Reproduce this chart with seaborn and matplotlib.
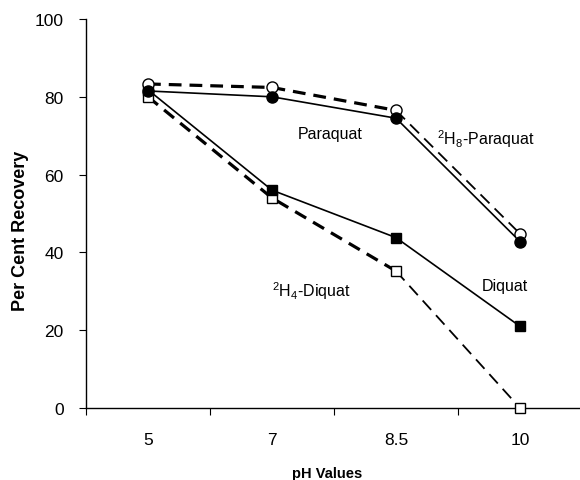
import numpy as np
import pandas as pd
import matplotlib
matplotlib.use("Agg")
import matplotlib.pyplot as plt
import seaborn as sns

ph_labels = ["5", "7", "8.5", "10"]
paraquat = [81.5, 80.0, 74.5, 42.8]
paraquat_d8 = [83.3, 82.4, 76.5, 44.8]
diquat = [81.8, 56.0, 43.8, 21.0]
diquat_d4 = [80.0, 54.0, 35.2, 0.0]

sns.set_theme(style="white")
plt.rcParams['font.family'] = ['Liberation Sans', 'DejaVu Sans']
plt.rcParams['mathtext.fontset'] = 'custom'
plt.rcParams['mathtext.rm'] = 'Liberation Sans'

fig = plt.figure(figsize=(5.8, 4.81), dpi=100)
ax = fig.add_axes([86/580, 1-409/481, 496/580, 389/481])

pos = np.arange(len(ph_labels))

def draw(vals, marker, filled, dashed):
    mfc = "black" if filled else "white"
    ms = 8 if marker == "o" else 7.5
    if dashed:
        sns.lineplot(x=pos[:3], y=vals[:3], ax=ax, color="black", lw=2.3,
                     linestyle=(0, (4, 2.5)), zorder=2)
        sns.lineplot(x=pos[2:], y=vals[2:], ax=ax, color="black", lw=1.3,
                     linestyle=(0, (7, 4)), zorder=2)
    else:
        sns.lineplot(x=pos, y=vals, ax=ax, color="black", lw=1.2, zorder=2)
    ax.plot(pos, vals, linestyle="none", marker=marker, ms=ms, mfc=mfc,
            mec="black", mew=1.0, zorder=3, clip_on=False)

draw(diquat_d4, "s", False, True)
draw(diquat, "s", True, False)
draw(paraquat_d8, "o", False, True)
draw(paraquat, "o", True, False)

ax.set_xlim(-0.5, 3.5)
ax.set_ylim(0, 100)
ax.set_yticks([0, 20, 40, 60, 80, 100])
ax.set_xticks(pos)
ax.set_xticklabels(ph_labels)
ax.set_xticks(np.arange(-0.5, 3.6, 1.0), minor=True)
ax.tick_params(axis="x", which="major", length=0, pad=17, labelsize=12.5, colors="black")
ax.tick_params(axis="x", which="minor", length=5, width=0.8, direction="out", color="black", bottom=True)
ax.tick_params(axis="y", which="major", length=5, width=0.8, direction="out", left=True,
               labelsize=12.5, colors="black", pad=11)

for s in ["top", "right"]:
    ax.spines[s].set_visible(False)
for s in ["left", "bottom"]:
    ax.spines[s].set_color("black")
    ax.spines[s].set_linewidth(1.0)
ax.spines["bottom"].set_clip_on(False)
ax.set_xlabel("")
ax.set_ylabel("")

def ftxt(xp, yp, s, **k):
    d = dict(fontsize=11.5, color="black", ha="center", va="center")
    d.update(k)
    fig.text(xp/580, 1-yp/481, s, **d)

ftxt(21, 231, "Per Cent Recovery", fontsize=13, fontweight="bold", rotation=90)
ftxt(327, 474, "pH Values", fontsize=10.5, fontweight="bold")
ftxt(330, 134, "Paraquat")
ftxt(486, 139, r"$^{2}$H$_{8}$-Paraquat")
ftxt(505, 287, "Diquat")
ftxt(311, 291, r"$^{2}$H$_{4}$-Diquat")

fig.savefig("out.png", dpi=100)
